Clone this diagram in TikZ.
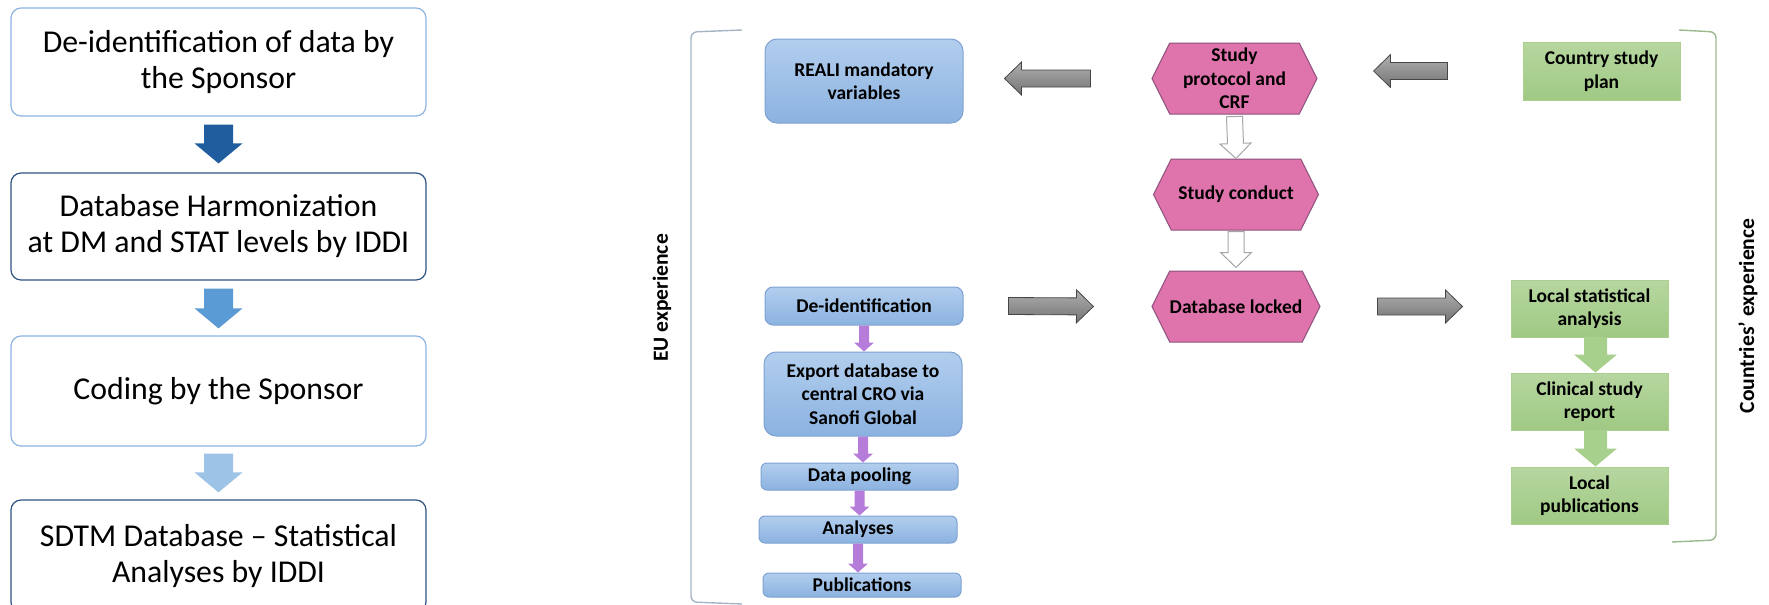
\documentclass[tikz,border=0pt]{standalone}
\usepackage{fontspec}
\setmainfont{Carlito}
\usepackage{tikz}
\usetikzlibrary{shapes.symbols,positioning,calc}
\definecolor{bordeclaro}{RGB}{142,180,227}
\definecolor{bordeoscuro}{RGB}{47,84,130}
\definecolor{azulA}{RGB}{31,93,158}
\definecolor{azulB}{RGB}{91,155,213}
\definecolor{azulC}{RGB}{157,195,230}
\definecolor{euarriba}{RGB}{178,206,238}
\definecolor{euabajo}{RGB}{139,178,224}
\definecolor{eulinea}{RGB}{126,162,210}
\definecolor{lila}{RGB}{182,124,218}
\definecolor{rosa}{RGB}{223,116,172}
\definecolor{rosalinea}{RGB}{140,80,125}
\definecolor{verdearriba}{RGB}{182,215,160}
\definecolor{verdeabajo}{RGB}{160,201,132}
\definecolor{verdelinea}{RGB}{170,207,145}
\definecolor{verdeflecha}{RGB}{168,208,141}
\definecolor{grisarriba}{RGB}{175,175,175}
\definecolor{grisabajo}{RGB}{115,115,115}
\definecolor{grislinea}{RGB}{70,70,70}
\definecolor{llaveeu}{RGB}{165,180,196}
\definecolor{llavepais}{RGB}{155,185,140}
\tikzset{
  etapa/.style={rectangle, rounded corners=5pt, draw=bordeclaro, line width=0.6pt,
                fill=white, minimum width=207.5pt, align=center, inner sep=0pt,
                font=\fontsize{15.9}{18}\selectfont},
  etapaosc/.style={etapa, draw=bordeoscuro},
  eubox/.style={rectangle, rounded corners=3pt, draw=eulinea, line width=0.5pt,
                top color=euarriba, bottom color=euabajo, minimum width=99pt,
                align=center, inner sep=0pt, font=\fontsize{9.75}{11.7}\selectfont\bfseries},
  hexa/.style={signal, signal to=east and west, signal pointer angle=127,
               draw=rosalinea, line width=0.5pt, fill=rosa, minimum width=82.5pt,
               minimum height=35.5pt, inner sep=0pt, align=center,
               font=\fontsize{9.75}{11.7}\selectfont\bfseries},
  paisbox/.style={rectangle, draw=verdelinea, line width=0.5pt, top color=verdearriba,
                  bottom color=verdeabajo, minimum width=78.5pt, minimum height=28.5pt,
                  align=center, inner sep=0pt, font=\fontsize{9.75}{11.7}\selectfont\bfseries},
  blk/.style n args={3}{to path={
      (\tikztostart) coordinate (blk-s) (\tikztotarget) coordinate (blk-t)
      ($(blk-t)!#3!(blk-s)$) coordinate (blk-q)
      ($(blk-s)!#1!90:(blk-t)$) -- ($(blk-q)!#1!90:(blk-t)$) -- ($(blk-q)!#2!90:(blk-t)$)
      -- (blk-t) -- ($(blk-q)!#2!-90:(blk-t)$) -- ($(blk-q)!#1!-90:(blk-t)$)
      -- ($(blk-s)!#1!-90:(blk-t)$) -- cycle}},
  flechaazul/.style={blk={7.25pt}{12pt}{10pt}, draw=none},
  flechalila/.style={blk={2.5pt}{5pt}{4.5pt}, fill=lila, draw=none},
  flechagris/.style={blk={4.25pt}{8.25pt}{8.5pt}, top color=grisarriba,
                     bottom color=grisabajo, draw=grislinea, line width=0.4pt},
  flechablanca/.style={blk={4pt}{7.75pt}{7.5pt}, fill=white, draw=gray!70, line width=0.5pt},
  flechaverde/.style={blk={5.75pt}{10.75pt}{9pt}, fill=verdeflecha, draw=none},
  llave/.style={rounded corners=3pt, line width=0.7pt},
  rotulo/.style={rotate=90, font=\fontsize{10.8}{13}\selectfont\bfseries}
}
\begin{document}
\begin{tikzpicture}[x=0.5pt, y=-0.5pt]
  \useasboundingbox (0,0) rectangle (1769,605);
  % columna izquierda
  \node[etapa, minimum height=54pt] (b1) at (218.5,62) {De-identification of data by\\the Sponsor};
  \node[etapaosc, minimum height=53.5pt] (b2) at (218.5,226.5) {Database Harmonization\\at DM and STAT levels by IDDI};
  \node[etapa, minimum height=55pt] (b3) at (218.5,391) {Coding by the Sponsor};
  \begin{scope}
    \clip (0,0) rectangle (1769,604);
    \node[etapaosc, minimum height=56pt] (b4) at (218.5,556) {SDTM Database -- Statistical\\Analyses by IDDI};
  \end{scope}
  \draw[flechaazul, fill=azulA] ($(b1.south)+(0,8)$) to ($(b2.north)+(0,-9)$);
  \draw[flechaazul, fill=azulB] ($(b2.south)+(0,8)$) to ($(b3.north)+(0,-7)$);
  \draw[flechaazul, fill=azulC] ($(b3.south)+(0,7)$) to ($(b4.north)+(0,-7)$);

  % experiencia europea
  \draw[llave, draw=llaveeu] (742,30) -- (691,32) -- (691,602) -- (742,604);
  \node[rotulo] (eu) at (662,298) {EU experience};
  \node[eubox, minimum height=42pt, rounded corners=6pt] (reali) at (864,81) {REALI mandatory\\variables};
  \node[eubox, minimum height=19pt, rounded corners=4pt] (deid) at (864,306) {De-identification};
  \node[eubox, minimum height=42pt, rounded corners=6pt] (export) at (863,394) {Export database to\\central CRO via\\Sanofi Global};
  \node[eubox, minimum width=98.5pt, minimum height=13.5pt] (pool) at (859.5,476.5) {Data pooling};
  \node[eubox, minimum height=13.5pt] (anal) at (858,529.5) {Analyses};
  \node[eubox, minimum height=12pt] (pubs) at (862,585) {Publications};
  \draw[flechalila] (deid.south) to (deid.south |- export.north);
  \draw[flechalila] (export.south) to (export.south |- pool.north);
  \draw[flechalila] (pool.south) to (pool.south |- anal.north);
  \draw[flechalila] (anal.south) to (anal.south |- pubs.north);

  % estudio
  \node[hexa] (prot) at (1234.5,78.5) {Study\\protocol and\\CRF};
  \node[hexa] (cond) at (1236,194.5) {Study conduct};
  \node[hexa] (dbl) at (1236,306.5) {Database locked};
  \draw[flechablanca] ($(prot.south)+(0,2)$) to (cond.north);
  \draw[flechablanca] ($(cond.south)+(0,1)$) to ($(dbl.north)+(0,-3)$);
  \draw[flechagris] ($(prot.west)+(-61,0)$) to ($(reali.east |- prot.west)+(41,0)$);
  \draw[flechagris] ($(deid.east)+(45,0)$) to ($(dbl.west)+(-58,0)$);

  % experiencia de los paises
  \draw[llave, draw=llavepais] (1679,30) -- (1716,32) -- (1716,540) -- (1672,542);
  \node[rotulo] (paises) at (1748,316) {Countries’ experience};
  \node[paisbox, minimum height=29pt] (plan) at (1601.5,71) {Country study\\plan};
  \node[paisbox] (lstat) at (1589.5,308.5) {Local statistical\\analysis};
  \node[paisbox] (csr) at (1589.5,401.5) {Clinical study\\report};
  \node[paisbox] (lpub) at (1589.5,495.5) {Local\\publications};
  \draw[flechaverde] ($(lstat.south)+(6,0)$) to ($(csr.north)+(6,0)$);
  \draw[flechaverde] ($(csr.south)+(6,0)$) to ($(lpub.north)+(6,0)$);
  \draw[flechagris] ($(plan.west)+(-75,0)$) to ($(prot.east |- plan.west)+(56,0)$);
  \draw[flechagris] ($(dbl.east)+(57,0)$) to ($(lstat.west |- dbl.east)+(-48,0)$);
\end{tikzpicture}
\end{document}
